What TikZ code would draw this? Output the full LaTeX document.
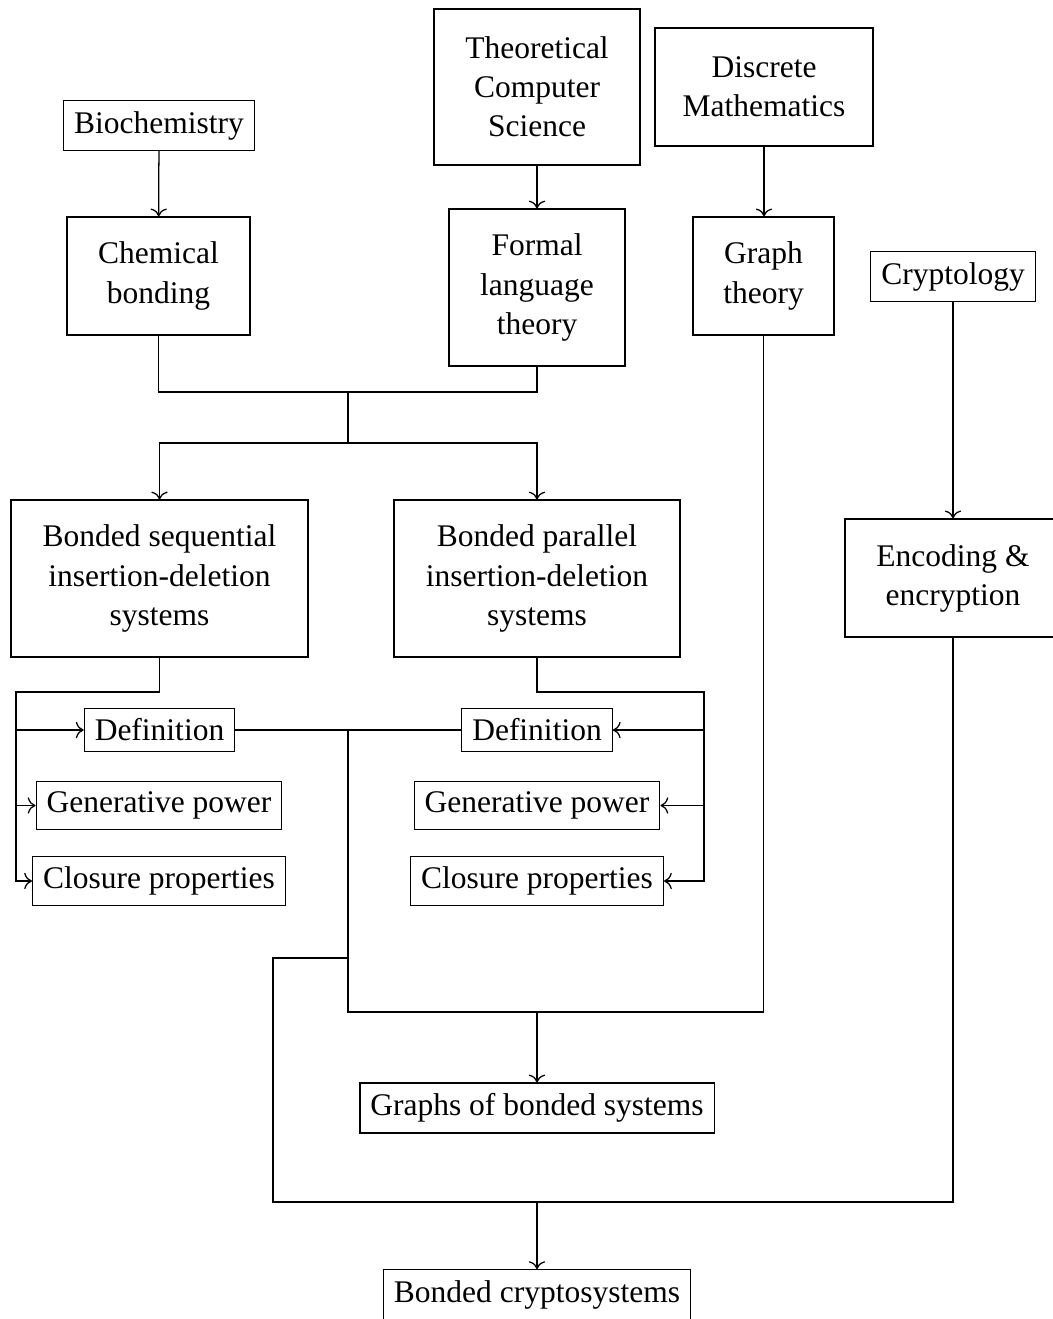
\documentclass[tikz,border=0pt]{standalone}
\usepackage{fontspec}
\setmainfont{Liberation Serif}
\usepackage{tikz}
\usetikzlibrary{arrows.meta,positioning,calc}
\tikzset{
  topicbox/.style={
    rectangle, draw, align=center,
    font=\fontsize{10}{12.4}\selectfont,
    inner sep=3.33pt
  },
  bigbox/.style 2 args={
    topicbox, minimum width=#1, minimum height=#2
  },
  linkarrow/.style={->},
  linkline/.style={-},
}

\begin{document}
\begin{tikzpicture}[x=0.3175pt, y=-0.3175pt]
  \useasboundingbox (0,0) rectangle (1052,1319);

  % Sources
  \node[topicbox] (bio) at (159,125.5) {Biochemistry};
  \node[bigbox={65.4pt}{49.5pt}] (tcs) at (537,87)
    {Theoretical\\Computer\\Science};
  \node[bigbox={69.2pt}{37.5pt}] (dm) at (764,87)
    {Discrete\\Mathematics};

  \node[bigbox={58.1pt}{37.5pt}] (chem) at (158.5,276) {Chemical\\bonding};
  \node[bigbox={55.9pt}{49.8pt}] (flt) at (537,287.5)
    {Formal\\language\\theory};
  \node[bigbox={44.8pt}{37.5pt}] (gt) at (763.5,276) {Graph\\theory};
  \node[topicbox] (crypt) at (953,276.5) {Cryptology};

  % Bonded systems
  \node[bigbox={94.3pt}{49.8pt}] (bseq) at (159.5,578.5)
    {Bonded sequential\\insertion-deletion\\systems};
  \node[bigbox={90.8pt}{49.8pt}] (bpar) at (537,578.5)
    {Bonded parallel\\insertion-deletion\\systems};
  \node[bigbox={68.6pt}{37.5pt}] (enc) at (953,578)
    {Encoding \&\\encryption};

  % Topics
  \node[topicbox] (defl) at (159.5,730) {Definition};
  \node[topicbox] (genl) at (159,805.5) {Generative power};
  \node[topicbox] (clol) at (159,881) {Closure properties};
  \node[topicbox] (defr) at (537,730) {Definition};
  \node[topicbox] (genr) at (537,805.5) {Generative power};
  \node[topicbox] (clor) at (537,881) {Closure properties};

  \node[topicbox] (graphs) at (537,1108) {Graphs of bonded systems};
  \node[topicbox] (bcrypt) at (537,1294.5) {Bonded cryptosystems};

  % Junctions
  \coordinate (j1) at (348,392);
  \coordinate (j2) at (348,443);
  \coordinate (lb) at (16,692);
  \coordinate (rb) at (704,692);
  \coordinate (j3) at (348,730);
  \coordinate (j4) at (348,1012);
  \coordinate (j5) at (348,958);
  \coordinate (j6) at (273,1202);

  \draw[linkarrow] (bio) -- (chem);
  \draw[linkarrow] (tcs) -- (flt);
  \draw[linkarrow] (dm.south) -- (dm.south |- gt.north);
  \draw[linkarrow] (crypt) -- (enc);

  \draw[linkline] (chem.south) |- (j1) -| (flt.south);
  \draw[linkline] (j1) -- (j2);
  \draw[linkarrow] (j2) -| (bseq.north);
  \draw[linkarrow] (j2) -| (bpar.north);

  \draw[linkarrow] (bseq.south) |- (lb) |- (clol);
  \draw[linkarrow] (lb |- defl) -- (defl);
  \draw[linkarrow] (lb |- genl) -- (genl);
  \draw[linkarrow] (bpar.south) |- (rb) |- (clor);
  \draw[linkarrow] (rb |- defr) -- (defr);
  \draw[linkarrow] (rb |- genr) -- (genr);

  \draw[linkline] (defl) -- (defr);
  \draw[linkline] (j3) -- (j4) -| (gt.south);
  \draw[linkarrow] (j4 -| graphs) -- (graphs);
  \draw[linkline] (j5) -| (j6) -| (enc.south);
  \draw[linkarrow] (j6 -| bcrypt) -- (bcrypt);
\end{tikzpicture}
\end{document}
